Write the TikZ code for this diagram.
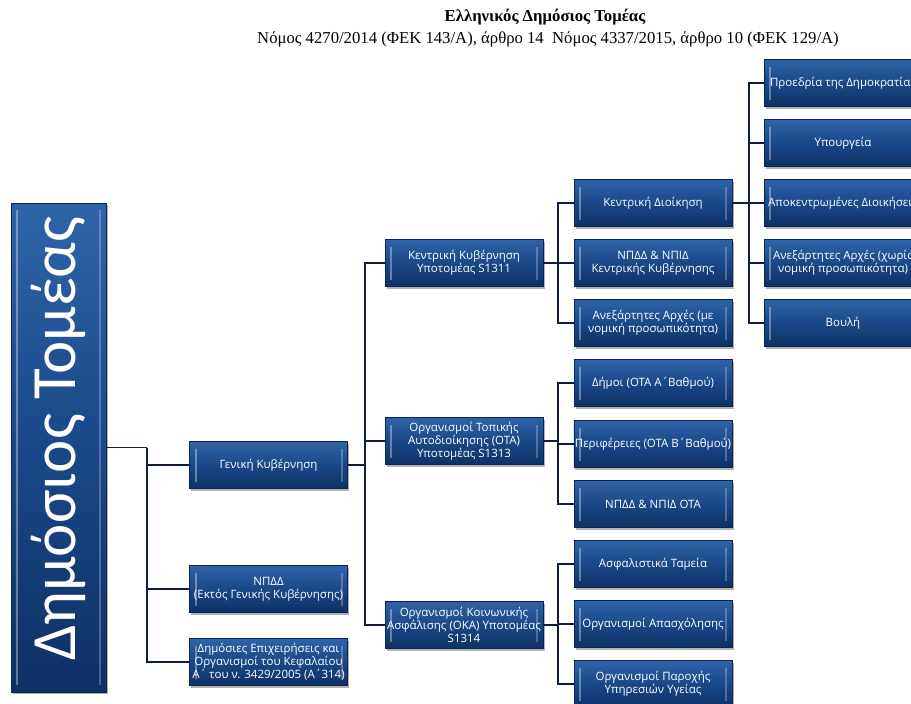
\documentclass[tikz,border=0pt]{standalone}
\usepackage{fontspec}
\setmainfont{Liberation Serif}
\newfontfamily\boxfont{Open Sans}
\newfontfamily\bigfont{Carlito}
\usetikzlibrary{shadows}
\definecolor{boxtop}{HTML}{2F63A8}
\definecolor{boxmid}{HTML}{1A4888}
\definecolor{boxbot}{HTML}{0E3064}
\definecolor{boxedge}{HTML}{0A2550}
\definecolor{connc}{HTML}{101C40}
\begin{document}
\begin{tikzpicture}[x=1pt,y=-1pt,
  bbox/.style={minimum width=158pt, minimum height=47pt, inner sep=1pt, align=center,
    text=white, font=\boxfont\fontsize{11.5}{13}\selectfont,
    top color=boxtop, bottom color=boxbot, middle color=boxmid,
    draw=boxedge, line width=0.6pt,
    drop shadow={shadow xshift=1.5pt, shadow yshift=-2pt, opacity=0.3, fill=black},
    path picture={
      \fill[white,opacity=0.35] ([xshift=5pt,yshift=-7pt]path picture bounding box.north west) rectangle ([xshift=7pt,yshift=7pt]path picture bounding box.south west);
      \fill[white,opacity=0.25] ([xshift=-7pt,yshift=-7pt]path picture bounding box.north east) rectangle ([xshift=-5pt,yshift=7pt]path picture bounding box.south east);
    }},
  conn/.style={draw=connc, line width=1.6pt},
  title/.style={inner sep=0pt, font=\fontsize{16.7}{18}\selectfont}]
\useasboundingbox (0,0) rectangle (911,704);
% title
\node[title, font=\bfseries\fontsize{16.7}{18}\selectfont] (t1) at (545,17) {Ελληνικός Δημόσιος Τομέας};
\node[title] (t2) at (548,39) {Νόμος 4270/2014 (ΦΕΚ 143/Α), άρθρο 14\ \ Νόμος 4337/2015, άρθρο 10 (ΦΕΚ 129/Α)};
% root
\node[bbox, minimum width=95pt, minimum height=489pt] (root) at (58.5,447.5)
  {\rotatebox{90}{\bigfont\fontsize{63}{65}\selectfont\hspace*{18pt}Δημόσιος Τομέας}};
% level 1
\node[bbox] (gen) at (268.5,465) {Γενική Κυβέρνηση};
\node[bbox] (npdd) at (268.5,589) {ΝΠΔΔ\\(Εκτός Γενικής Κυβέρνησης)};
\node[bbox] (dem) at (268.5,662) {Δημόσιες Επιχειρήσεις και\\Οργανισμοί του Κεφαλαίου\\Α΄ του ν. 3429/2005 (Α΄314)};
% level 2
\node[bbox] (kk) at (464,263) {Κεντρική Κυβέρνηση\\Υποτομέας S1311};
\node[bbox] (ota) at (464,441) {Οργανισμοί Τοπικής\\Αυτοδιοίκησης (ΟΤΑ)\\Υποτομέας S1313};
\node[bbox] (oka) at (464,625) {Οργανισμοί Κοινωνικής\\Ασφάλισης (ΟΚΑ) Υποτομέας\\S1314};
% level 3
\node[bbox] (kd) at (653,203) {Κεντρική Διοίκηση};
\node[bbox] (npkk) at (653,263) {ΝΠΔΔ \& ΝΠΙΔ\\Κεντρικής Κυβέρνησης};
\node[bbox] (anme) at (653,323) {Ανεξάρτητες Αρχές (με\\νομική προσωπικότητα)};
\node[bbox] (dimoi) at (653,383) {Δήμοι (ΟΤΑ Α΄Βαθμού)};
\node[bbox] (perif) at (653,444) {Περιφέρειες (ΟΤΑ Β΄Βαθμού)};
\node[bbox] (npota) at (653,504) {ΝΠΔΔ \& ΝΠΙΔ ΟΤΑ};
\node[bbox] (asf) at (653,564) {Ασφαλιστικά Ταμεία};
\node[bbox] (apa) at (653,624) {Οργανισμοί Απασχόλησης};
\node[bbox] (par) at (653,684) {Οργανισμοί Παροχής\\Υπηρεσιών Υγείας};
% level 4
\node[bbox] (pro) at (843,83) {Προεδρία της Δημοκρατίας};
\node[bbox] (ypo) at (843,143) {Υπουργεία};
\node[bbox] (apo) at (843,203) {Αποκεντρωμένες Διοικήσεις};
\node[bbox] (anxo) at (843,263) {Ανεξάρτητες Αρχές (χωρίς\\νομική προσωπικότητα)};
\node[bbox] (vou) at (843,323) {Βουλή};
% connectors
\draw[conn] (root.east) -- (147,447.5) coordinate (j0);
\draw[conn] (j0) |- (gen.west);
\draw[conn] (j0) |- (npdd.west);
\draw[conn] (j0) |- (dem.west);
\draw[conn] (gen.east) -- (365,465) coordinate (j1);
\draw[conn] (j1) |- (kk.west);
\draw[conn] (j1) |- (ota.west);
\draw[conn] (j1) |- (oka.west);
\draw[conn] (kk.east) -- (558,263) coordinate (j2);
\draw[conn] (j2) |- (kd.west);
\draw[conn] (j2) |- (npkk.west);
\draw[conn] (j2) |- (anme.west);
\draw[conn] (ota.east) -- (558,441) coordinate (j3);
\draw[conn] (j3) |- (dimoi.west);
\draw[conn] (j3) |- (perif.west);
\draw[conn] (j3) |- (npota.west);
\draw[conn] (oka.east) -- (558,625) coordinate (j4);
\draw[conn] (j4) |- (asf.west);
\draw[conn] (j4) |- (apa.west);
\draw[conn] (j4) |- (par.west);
\draw[conn] (kd.east) -- (749,203) coordinate (j5);
\draw[conn] (j5) |- (pro.west);
\draw[conn] (j5) |- (ypo.west);
\draw[conn] (j5) |- (apo.west);
\draw[conn] (j5) |- (anxo.west);
\draw[conn] (j5) |- (vou.west);
\end{tikzpicture}
\end{document}
